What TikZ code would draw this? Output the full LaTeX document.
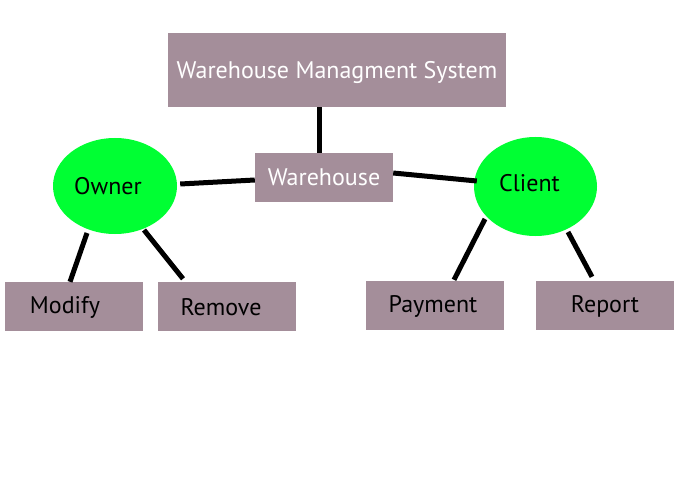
\documentclass[tikz,border=0pt]{standalone}
\usepackage{fontspec}
\setmainfont{PT Sans}
\usetikzlibrary{shapes.geometric,calc}
\definecolor{boxc}{HTML}{A48E9A}
\definecolor{greenc}{HTML}{00FF33}
\tikzset{
  x=1pt, y=-1pt,
  txt/.style={font=\fontsize{24}{26}\selectfont, text height=16.8pt, text depth=0pt, inner sep=0pt},
  box/.style={rectangle, fill=boxc, draw=none, inner sep=0pt, minimum width=138pt, minimum height=49pt},
  role/.style={ellipse, fill=greenc, draw=none, inner sep=0pt},
  conn/.style={line width=5pt, black, line cap=butt},
}
\begin{document}
\begin{tikzpicture}
\useasboundingbox (0,0) rectangle (680,500);
\node[box, minimum width=338pt, minimum height=74pt,
      label={[txt, text=white]center:Warehouse Managment System}] (top) at (337,70) {};
\node[box, label={[txt, text=white]center:Warehouse}] (wh) at (324,177.5) {};
\node[role, minimum width=124pt, minimum height=96pt,
      label={[txt, xshift=-7pt]center:Owner}] (own) at (115,186) {};
\node[role, minimum width=123pt, minimum height=99pt,
      label={[txt, xshift=-6pt, yshift=3.5pt]center:Client}] (cli) at (535.5,186.5) {};
\node[box, label={[txt, xshift=-9pt, yshift=1.5pt]center:Modify}] (mod) at (74,306.5) {};
\node[box, label={[txt, xshift=-6pt, yshift=-1pt]center:Remove}] (rem) at (227,306.5) {};
\node[box, label={[txt, xshift=-2pt, yshift=1.5pt]center:Payment}] (pay) at (435,305.5) {};
\node[box, label={[txt, yshift=1.5pt]center:Report}] (rep) at (605,305.5) {};

\draw[conn] ($(top.south)+(-18,0)$) -- ($(wh.north)+(-5,0)$);
\draw[conn] ($(own.east)+(3,-2)$) -- ($(wh.west)+(0,2.5)$);
\draw[conn] ($(wh.east)+(0,-4.5)$) -- ($(cli.west)+(3,-5.5)$);
\draw[conn] ($(own.center)+(-28,47)$) -- ($(mod.north)+(-4,0)$);
\draw[conn] ($(own.center)+(29,44)$) -- ($(rem.north)+(-44,-3)$);
\draw[conn] ($(cli.center)+(-50.5,32.5)$) -- ($(pay.north)+(19,-1)$);
\draw[conn] ($(cli.center)+(32.5,45.5)$) -- ($(rep.north)+(-13,-4)$);
\end{tikzpicture}
\end{document}
